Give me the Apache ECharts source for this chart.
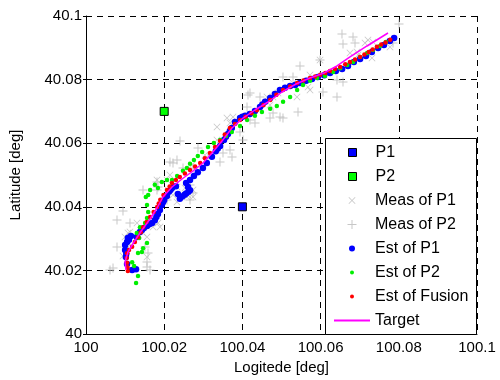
<!DOCTYPE html>
<html>
<head>
<meta charset="utf-8">
<script src="https://cdn.jsdelivr.net/npm/echarts@6/dist/echarts.min.js"></script>
<style>html,body{margin:0;padding:0;background:#fff}#c{width:500px;height:380px}</style>
</head>
<body>
<div id="c"></div>
<script>
// ---- data (longitude, latitude in degrees) ----
const xTicks = [100, 100.02, 100.04, 100.06, 100.08, 100.1];
const yTicks = [40, 40.02, 40.04, 40.06, 40.08, 40.1];

const stationP1 = [[100.04, 40.04]];
const stationP2 = [[100.02, 40.07]];

const measP1 = [
[100.00997,40.0305],[100.01074,40.03176],[100.01125,40.03208],[100.01304,40.03491],[100.01458,40.03176],
[100.0156,40.0305],[100.0156,40.02421],[100.01714,40.03365],[100.01841,40.03491],[100.01893,40.03365],
[100.01816,40.04843],[100.02072,40.04843],[100.02097,40.04528],[100.02148,40.05],[100.02225,40.04371],
[100.02327,40.04623],[100.02327,40.04151],[100.02532,40.04591],[100.02583,40.04308],[100.02609,40.04371],
[100.02711,40.05314],[100.02737,40.04528],[100.02737,40.04308],[100.03043,40.05629],[100.0335,40.06509],
[100.0335,40.06101],[100.03427,40.05943],[100.03606,40.06792],[100.03683,40.06635],[100.0376,40.06824],
[100.04629,40.07453],[100.04706,40.07201],[100.04783,40.07453],[100.0491,40.07579],[100.05294,40.07893],
[100.05396,40.07453],[100.05678,40.07767],[100.05729,40.08145],[100.05729,40.07673],[100.05985,40.08616],
[100.06061,40.08145],[100.06752,40.08836],[100.06931,40.08868],[100.06957,40.08774],[100.07136,40.09151],
[100.07212,40.09245],[100.07315,40.08679],[100.0734,40.09182],[100.07775,40.09025],[100.01074,40.02736],
[100.00946,40.02453]
];

const measP2 = [
[100.00614,40.02013],[100.00691,40.02075],[100.00793,40.02736],[100.00793,40.03585],[100.00946,40.03868],
[100.01125,40.03491],[100.01509,40.02736],[100.0156,40.02264],[100.0156,40.02107],[100.01586,40.02547],
[100.01637,40.02013],[100.01458,40.04528],[100.01841,40.04623],[100.01816,40.0478],[100.01816,40.04528],
[100.02072,40.04214],[100.02148,40.05409],[100.02327,40.05472],[100.02225,40.05377],[100.02404,40.06069],
[100.02481,40.0522],[100.0266,40.04214],[100.0266,40.04686],[100.02737,40.04434],[100.02737,40.0522],
[100.02864,40.05849],[100.0312,40.05535],[100.03427,40.05409],[100.03504,40.05692],[100.03683,40.05786],
[100.03734,40.05566],[100.04015,40.06101],[100.03939,40.06352],[100.04118,40.07138],[100.04143,40.07516],
[100.04194,40.07579],[100.04194,40.0673],[100.04322,40.06635],[100.0445,40.07453],[100.04706,40.06792],
[100.04783,40.0695],[100.04962,40.06824],[100.05038,40.08082],[100.05038,40.06792],[100.05294,40.08082],
[100.05422,40.06981],[100.05473,40.08428],[100.05985,40.08616],[100.06061,40.0761],[100.06419,40.07987],
[100.06419,40.07453],[100.06547,40.09434],[100.06573,40.09119],[100.06573,40.07925],[100.06829,40.0934],
[100.0688,40.09151],[100.07852,40.09151],[100.08005,40.09748]
];

const estP1 = [
[100.0118,40.0201],[100.0128,40.0204],[100.0105,40.0220],[100.0102,40.0242],[100.0100,40.0264],
[100.0100,40.0280],[100.0105,40.0289],[100.0107,40.0302],[100.0115,40.0308],[100.0130,40.0305],
[100.0138,40.0321],[100.0148,40.0333],[100.0156,40.0340],[100.0169,40.0349],[100.0176,40.0358],
[100.0184,40.0377],[100.0189,40.0390],[100.0194,40.0406],[100.0200,40.0421],[100.0207,40.0434],
[100.0212,40.0447],[100.0220,40.0459],[100.0230,40.0465],[100.0235,40.0440],[100.0240,40.0425],
[100.0246,40.0432],[100.0252,40.0438],[100.0256,40.0442],[100.0262,40.0447],[100.0266,40.0452],
[100.0261,40.0462],[100.0256,40.0475],[100.0266,40.0484],[100.0276,40.0497],[100.0286,40.0509],
[100.0299,40.0522],[100.0309,40.0538],[100.0322,40.0557],[100.0332,40.0575],[100.0343,40.0591],
[100.0353,40.0610],[100.0363,40.0629],[100.0373,40.0648],[100.0381,40.0667],[100.0394,40.0679],
[100.0407,40.0686],[100.0419,40.0692],[100.0432,40.0701],[100.0445,40.0714],[100.0458,40.0730],
[100.0471,40.0742],[100.0483,40.0755],[100.0496,40.0767],[100.0509,40.0774],[100.0522,40.0780],
[100.0535,40.0783],[100.0547,40.0789],[100.0563,40.0796],[100.0578,40.0802],[100.0593,40.0808],
[100.0609,40.0814],[100.0624,40.0821],[100.0639,40.0827],[100.0655,40.0833],[100.0670,40.0843],
[100.0685,40.0855],[100.0701,40.0865],[100.0716,40.0874],[100.0731,40.0887],[100.0747,40.0899],
[100.0762,40.0909],[100.0777,40.0921],[100.0788,40.0931],[100.0103,40.0252],[100.0110,40.0296],
[100.0143,40.0327],[100.0162,40.0345],[100.0180,40.0368],[100.0197,40.0414],[100.0216,40.0453],
[100.0337,40.0583],[100.0358,40.0620],[100.0368,40.0638],[100.0400,40.0683],[100.0451,40.0722]
];

const estP2 = [
[100.0128,40.0160],[100.0133,40.0182],[100.0123,40.0214],[100.0118,40.0226],[100.0133,40.0255],
[100.0143,40.0258],[100.0146,40.0270],[100.0156,40.0286],[100.0136,40.0302],[100.0130,40.0318],
[100.0138,40.0336],[100.0151,40.0349],[100.0156,40.0365],[100.0159,40.0384],[100.0156,40.0406],
[100.0153,40.0431],[100.0159,40.0437],[100.0164,40.0453],[100.0176,40.0469],[100.0184,40.0459],
[100.0194,40.0478],[100.0207,40.0484],[100.0220,40.0484],[100.0233,40.0497],[100.0248,40.0513],
[100.0258,40.0522],[100.0266,40.0535],[100.0276,40.0547],[100.0286,40.0560],[100.0297,40.0572],
[100.0312,40.0588],[100.0327,40.0601],[100.0343,40.0610],[100.0358,40.0623],[100.0373,40.0635],
[100.0394,40.0654],[100.0412,40.0673],[100.0432,40.0686],[100.0450,40.0698],[100.0471,40.0708],
[100.0488,40.0717],[100.0504,40.0730],[100.0522,40.0745],[100.0540,40.0767],[100.0555,40.0783],
[100.0573,40.0796],[100.0591,40.0805],[100.0611,40.0811],[100.0632,40.0824],[100.0650,40.0836],
[100.0668,40.0846],[100.0683,40.0855],[100.0701,40.0871],[100.0719,40.0884],[100.0734,40.0893],
[100.0752,40.0906],[100.0767,40.0918]
];

const estFusion = [
[100.0107,40.0198],[100.0106,40.0210],[100.0105,40.0224],[100.0104,40.0239],[100.0105,40.0254],
[100.0110,40.0264],[100.0118,40.0274],[100.0125,40.0289],[100.0133,40.0304],[100.0140,40.0320],
[100.0146,40.0336],[100.0155,40.0352],[100.0164,40.0368],[100.0173,40.0384],[100.0182,40.0399],
[100.0186,40.0410],[100.0190,40.0422],[100.0198,40.0437],[100.0207,40.0453],[100.0214,40.0464],
[100.0220,40.0475],[100.0230,40.0484],[100.0240,40.0494],[100.0253,40.0505],[100.0266,40.0516],
[100.0279,40.0527],[100.0292,40.0538],[100.0304,40.0553],[100.0317,40.0569],[100.0330,40.0588],
[100.0343,40.0607],[100.0355,40.0627],[100.0368,40.0648],[100.0381,40.0660],[100.0394,40.0673],
[100.0408,40.0683],[100.0423,40.0694],[100.0437,40.0704],[100.0454,40.0720],[100.0471,40.0736],
[100.0487,40.0752],[100.0504,40.0767],[100.0522,40.0778],[100.0540,40.0789],[100.0556,40.0797],
[100.0573,40.0805],[100.0586,40.0810],[100.0599,40.0815],[100.0612,40.0821],[100.0624,40.0827],
[100.0637,40.0833],[100.0650,40.0840],[100.0663,40.0848],[100.0675,40.0855],[100.0688,40.0863],
[100.0701,40.0871],[100.0712,40.0879],[100.0723,40.0887],[100.0733,40.0895],[100.0744,40.0903],
[100.0755,40.0910],[100.0766,40.0917],[100.0778,40.0925]
];

const target = [
[100.01023,40.02013],[100.00997,40.02264],[100.01074,40.02579],[100.01228,40.02893],[100.01432,40.0327],
[100.01637,40.03616],[100.01816,40.03962],[100.01969,40.04308],[100.022,40.04623],[100.02455,40.04874],
[100.02737,40.05126],[100.02992,40.05377],[100.03223,40.05692],[100.03478,40.06069],[100.03734,40.06478],
[100.04015,40.06792],[100.04322,40.07044],[100.04655,40.07296],[100.05013,40.0761],[100.05371,40.07862],
[100.05729,40.0805],[100.06087,40.08208],[100.06419,40.08428],[100.06752,40.08711],[100.07187,40.09057],
[100.07724,40.09465]
];

const legendNames = ['P1','P2','Meas of P1','Meas of P2','Est of P1','Est of P2','Est of Fusion','Target'];

// ---- styling ----
const FONT = '"Liberation Sans", Arial, Helvetica, sans-serif';
const CROSS = 'path://M0,0.8L0.8,0L5,4.2L9.2,0L10,0.8L5.8,5L10,9.2L9.2,10L5,5.8L0.8,10L0,9.2L4.2,5Z';
const PLUS = 'path://M4.45,0H5.55V4.45H10V5.55H5.55V10H4.45V5.55H0V4.45H4.45Z';
const SQUARE = 'path://M0,0H10V10H0Z';
const GRAY = '#b9b9b9';
const fmt = v => String(parseFloat(Number(v).toFixed(2)));

const legendIcons = {
  'P1': {icon:SQUARE, size:8, style:{color:'#0000ff', borderColor:'#000', borderWidth:1}},
  'P2': {icon:SQUARE, size:8, style:{color:'#00ff00', borderColor:'#000', borderWidth:1}},
  'Meas of P1': {icon:CROSS, size:7, style:{color:GRAY}},
  'Meas of P2': {icon:PLUS, size:9, style:{color:GRAY}},
  'Est of P1': {icon:'circle', size:6, style:{color:'#0000ff'}},
  'Est of P2': {icon:'circle', size:4, style:{color:'#00ee00'}},
  'Est of Fusion': {icon:'circle', size:4, style:{color:'#ff0000'}},
  'Target': {icon:'rect', size:2, style:{color:'#ff00ff'}, full:true}
};

const ICON_CX = 352;
const rowCenters = [152.5, 176.5, 200.5, 224.5, 248.5, 272.5, 296.5, 320.5];
const legends = legendNames.map((name, i) => {
  const ic = legendIcons[name];
  return {
    show: true, orient: 'vertical',
    left: ic.full ? ICON_CX - 18 : ICON_CX - ic.size / 2,
    top: rowCenters[i] - 8,
    padding: 0, itemWidth: 36, itemHeight: ic.size, itemGap: 0,
    symbolKeepAspect: true, selectedMode: false, z: 20,
    textStyle: {fontFamily: FONT, fontSize: 16, color: '#000'},
    data: [{name: name, icon: ic.icon, itemStyle: ic.style}]
  };
});

const chart = echarts.init(document.getElementById('c'), null, {renderer: 'canvas'});
chart.setOption({
  animation: false,
  backgroundColor: '#fff',
  grid: {left: 86, right: 23, top: 16, bottom: 46},
  xAxis: {
    type: 'value', min: xTicks[0], max: xTicks[xTicks.length - 1], interval: 0.02,
    name: 'Logitede [deg]', nameLocation: 'middle', nameGap: 25,
    nameTextStyle: {fontFamily: FONT, fontSize: 15, color: '#000'},
    axisLine: {show: true, onZero: false, lineStyle: {color: '#000', width: 1}},
    axisTick: {show: false},
    axisLabel: {fontFamily: FONT, fontSize: 15, color: '#000', margin: 6, formatter: fmt},
    splitLine: {show: true, lineStyle: {color: '#000', width: 1, type: [6, 5]}}
  },
  yAxis: {
    type: 'value', min: yTicks[0], max: yTicks[yTicks.length - 1], interval: 0.02,
    name: 'Latitude [deg]', nameLocation: 'middle', nameGap: 63,
    nameTextStyle: {fontFamily: FONT, fontSize: 15, color: '#000'},
    axisLine: {show: true, onZero: false, lineStyle: {color: '#000', width: 1}},
    axisTick: {show: true, inside: false, length: 3, lineStyle: {color: '#000'}},
    axisLabel: {fontFamily: FONT, fontSize: 15, color: '#000', margin: 4, formatter: fmt},
    splitLine: {show: true, lineStyle: {color: '#000', width: 1, type: [6, 5]}}
  },
  legend: legends,
  graphic: [{
    type: 'rect', z: 15, silent: true,
    shape: {x: 325.5, y: 138.5, width: 151, height: 196},
    style: {fill: '#fff', stroke: '#000', lineWidth: 1}
  }],
  series: [
    {name: 'Meas of P1', type: 'scatter', data: measP1, symbol: CROSS, symbolSize: 7,
     itemStyle: {color: GRAY}, z: 2},
    {name: 'Meas of P2', type: 'scatter', data: measP2, symbol: PLUS, symbolSize: 9,
     itemStyle: {color: GRAY}, z: 2},
    {name: 'Est of P1', type: 'scatter', data: estP1, symbol: 'circle', symbolSize: 6.5,
     itemStyle: {color: '#0000ff', opacity: 1}, z: 3},
    {name: 'Est of P2', type: 'scatter', data: estP2, symbol: 'circle', symbolSize: 4.5,
     itemStyle: {color: '#00ee00', opacity: 1}, z: 3},
    {name: 'Est of Fusion', type: 'scatter', data: estFusion, symbol: 'circle', symbolSize: 4.5,
     itemStyle: {color: '#ff0000', opacity: 1}, z: 4},
    {name: 'Target', type: 'line', data: target, symbol: 'none', showSymbol: false,
     lineStyle: {color: '#ff00ff', width: 1.5}, itemStyle: {color: '#ff00ff'}, z: 5},
    {name: 'P1', type: 'scatter', data: stationP1, symbol: 'rect', symbolSize: 8,
     itemStyle: {color: '#0000ff', borderColor: '#000', borderWidth: 1, opacity: 1}, z: 6},
    {name: 'P2', type: 'scatter', data: stationP2, symbol: 'rect', symbolSize: 8,
     itemStyle: {color: '#00ff00', borderColor: '#000', borderWidth: 1, opacity: 1}, z: 6}
  ]
});
</script>
</body>
</html>
